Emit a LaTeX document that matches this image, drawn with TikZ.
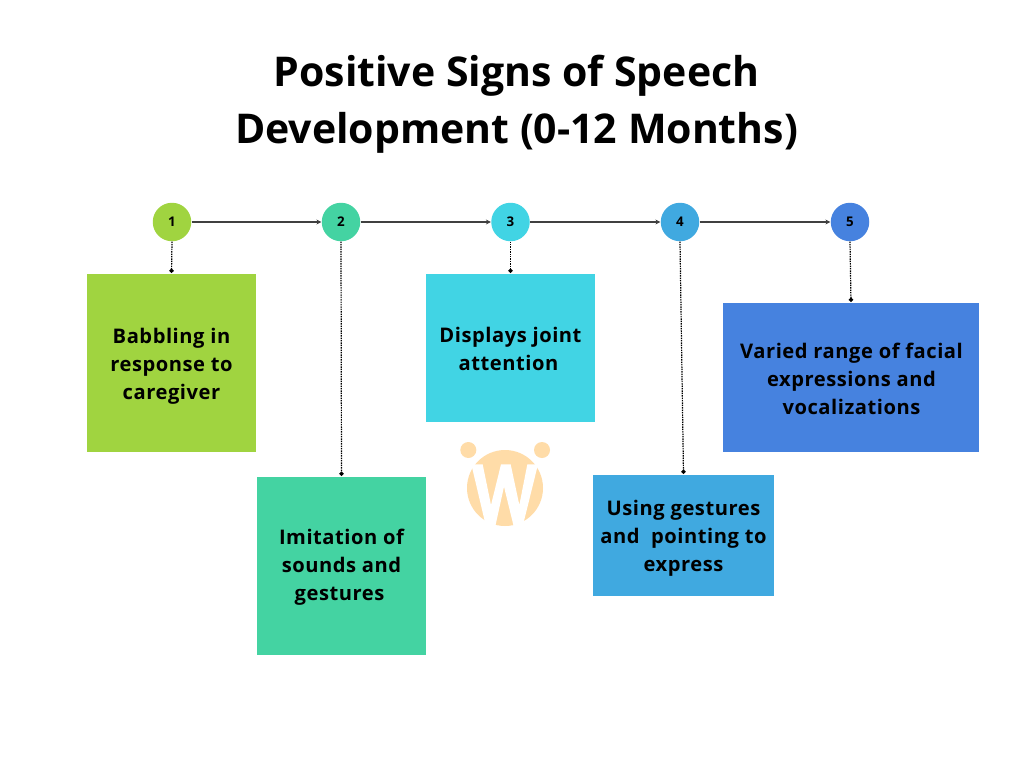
\documentclass[tikz,border=0pt]{standalone}
\usepackage{fontspec}
\setmainfont{Open Sans}
\newfontfamily\titlefont{Open Sans}
\newfontfamily\bodyfont[LetterSpace=2.7]{Open Sans}
\usetikzlibrary{arrows.meta}
\definecolor{cA}{HTML}{A0D440}
\definecolor{cB}{HTML}{44D3A2}
\definecolor{cC}{HTML}{41D4E4}
\definecolor{cD}{HTML}{40A9E0}
\definecolor{cE}{HTML}{4682DF}
\definecolor{logoC}{HTML}{FFDCA8}
\tikzset{
  dot/.style={circle,fill=#1,draw=none,minimum size=38.5*0.75pt,inner sep=0pt,font=\bfseries\fontsize{10}{11}\selectfont},
  stepbox/.style={fill=#1,draw=none,inner sep=0pt},
  steptext/.style={inner sep=0pt,align=center,font=\bodyfont\bfseries\fontsize{15.1}{21}\selectfont},
  flow/.style={draw=black!75,line width=0.9pt,-{Stealth[length=3.8pt,width=3.6pt]}},
  drop/.style={draw=black,line width=0.9pt,dash pattern=on 1.1pt off 0.7pt,-{Circle[length=3.2pt,width=3.2pt]},shorten >=0.6pt}
}
\begin{document}
\begin{tikzpicture}[x=0.75pt,y=-0.75pt]
\fill[white] (0,0) rectangle (1024,768);
\useasboundingbox (0,0) rectangle (1024,768);
\node[align=center,font=\titlefont\bfseries\fontsize{30.75}{42.75}\selectfont,inner sep=0pt] (title) at (516.5,104) {Positive Signs of Speech\\Development (0-12 Months)};
% logo
\fill[logoC] (505,488) circle (38);
\fill[logoC] (468.3,450) circle (8);
\fill[logoC] (542,450) circle (8);
\begin{scope}[shift={(440,425)},x=0.25pt,y=-0.25pt]
\fill[white] (94,118)--(128,118)--(153,240)--(183,118)--(212,118)--(238,240)--(262,118)--(294,118)--(250,296)--(222,308)--(192,185)--(165,308)--(135,292)--cycle;
\end{scope}
% circles
\node[dot=cA] (d1) at (172,222) {1};
\node[dot=cB] (d2) at (341,222) {2};
\node[dot=cC] (d3) at (510.5,222) {3};
\node[dot=cD] (d4) at (680,222) {4};
\node[dot=cE] (d5) at (850,222) {5};
% boxes
\node[stepbox=cA,minimum width=169*0.75pt,minimum height=178*0.75pt] (b1) at (171.5,363) {};
\node[stepbox=cB,minimum width=169*0.75pt,minimum height=178*0.75pt] (b2) at (341.5,566) {};
\node[stepbox=cC,minimum width=169*0.75pt,minimum height=148*0.75pt] (b3) at (510.5,348) {};
\node[stepbox=cD,minimum width=181*0.75pt,minimum height=121*0.75pt] (b4) at (683.5,535.5) {};
\node[stepbox=cE,minimum width=256*0.75pt,minimum height=149*0.75pt] (b5) at (851,377.5) {};
\node[steptext] (t1) at (171.5,366) {Babbling in\\response to\\caregiver};
\node[steptext] (t2) at (341.5,567) {Imitation of\\sounds and\\gestures\hspace*{3pt}};
\node[steptext] (t3) at (510.5,349) {Displays joint\\attention\hspace*{3pt}};
\node[steptext] (t4) at (683.5,538.5) {Using gestures\\and\ \ pointing to\\express};
\node[steptext] (t5) at (851.5,378.5) {Varied range of facial\\expressions and\\vocalizations};
% connectors
\draw[flow] (d1) -- (d2);
\draw[flow] (d2) -- (d3);
\draw[flow] (d3) -- (d4);
\draw[flow] (d4) -- (d5);
\draw[drop] (d1.south) -- (b1.north);
\draw[drop] (d2.south) -- (b2.north);
\draw[drop] (d3.south) -- (b3.north);
\draw[drop] (d4.south) -- (b4.north);
\draw[drop] (d5.south) -- (b5.north);
\end{tikzpicture}
\end{document}
